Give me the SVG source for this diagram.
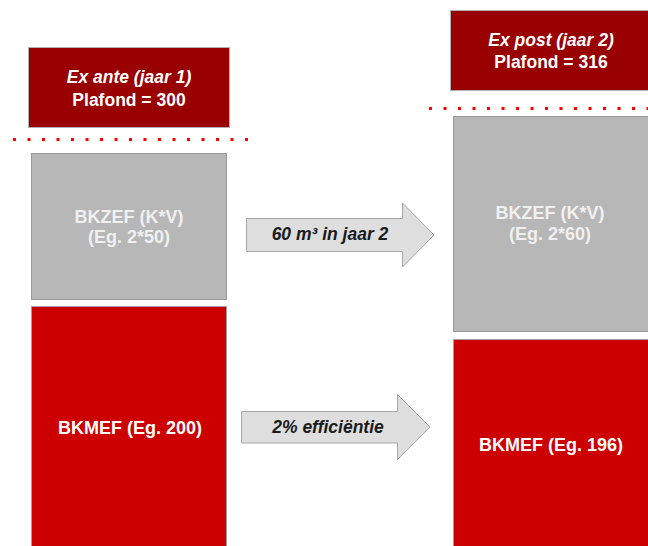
<svg xmlns="http://www.w3.org/2000/svg" width="648" height="546" viewBox="0 0 648 546">
<style>
.hdr{fill:#990000;stroke:#b0b0b0;stroke-width:1}
.gry{fill:#b7b7b7;stroke:#9a9a9a;stroke-width:1}
.red{fill:#cc0000;stroke:#a0a0a0;stroke-width:1}
.arr{fill:#dedede;stroke:#a6a6a6;stroke-width:1}
.dots{stroke:#ff0000;stroke-width:3;stroke-dasharray:3 11.5;fill:none}
text{font-family:"Liberation Sans",Arial,sans-serif;font-weight:bold;text-anchor:middle}
.w{fill:#ffffff;font-size:17.5px}
.lg{fill:#f0f0f0;font-size:18px}
.wr{fill:#ffffff;font-size:18px}
.at{fill:#1a1a1a;font-size:17.5px;font-style:italic}
</style>
<rect width="648" height="546" fill="#ffffff"/>
<g id="dots">
<line class="dots" x1="13" y1="139.5" x2="248" y2="139.5"/>
<line class="dots" x1="429" y1="108.5" x2="648" y2="108.5"/>
</g>
<g id="header-ante">
<rect class="hdr" x="28.5" y="47.5" width="201" height="80"/>
<text class="w" x="129" y="83"><tspan font-style="italic">Ex ante (jaar 1)</tspan></text>
<text class="w" x="129" y="105.5">Plafond = 300</text>
</g>
<g id="header-post">
<rect class="hdr" x="450.5" y="10.5" width="198" height="80"/>
<text class="w" x="551" y="45.5"><tspan font-style="italic">Ex post (jaar 2)</tspan></text>
<text class="w" x="551" y="68">Plafond = 316</text>
</g>
<g id="bkzef-ante">
<rect class="gry" x="31.5" y="153.5" width="195" height="146"/>
<text class="lg" x="129" y="223">BKZEF (K*V)</text>
<text class="lg" x="129" y="243">(Eg. 2*50)</text>
</g>
<g id="bkmef-ante">
<rect class="red" x="31.5" y="306.5" width="195" height="250"/>
<text class="wr" x="130" y="434">BKMEF (Eg. 200)</text>
</g>
<g id="bkzef-post">
<rect class="gry" x="453.5" y="116.5" width="200" height="215"/>
<text class="lg" x="550" y="219">BKZEF (K*V)</text>
<text class="lg" x="550" y="240">(Eg. 2*60)</text>
</g>
<g id="bkmef-post">
<rect class="red" x="453.5" y="339.5" width="200" height="220"/>
<text class="wr" x="551" y="451">BKMEF (Eg. 196)</text>
</g>
<g id="connectors">
<g id="arrow-volume">
<polygon class="arr" points="246.5,218.5 402.5,218.5 402.5,203 434,235 402.5,267 402.5,251.5 246.5,251.5"/>
<text class="at" x="330" y="240">60 m³ in jaar 2</text>
</g>
<g id="arrow-efficiency">
<polygon class="arr" points="241.5,411.5 397.5,411.5 397.5,394.5 430,427 397.5,459.5 397.5,443 241.5,443"/>
<text class="at" x="328" y="433">2% efficiëntie</text>
</g>
</g>
</svg>
